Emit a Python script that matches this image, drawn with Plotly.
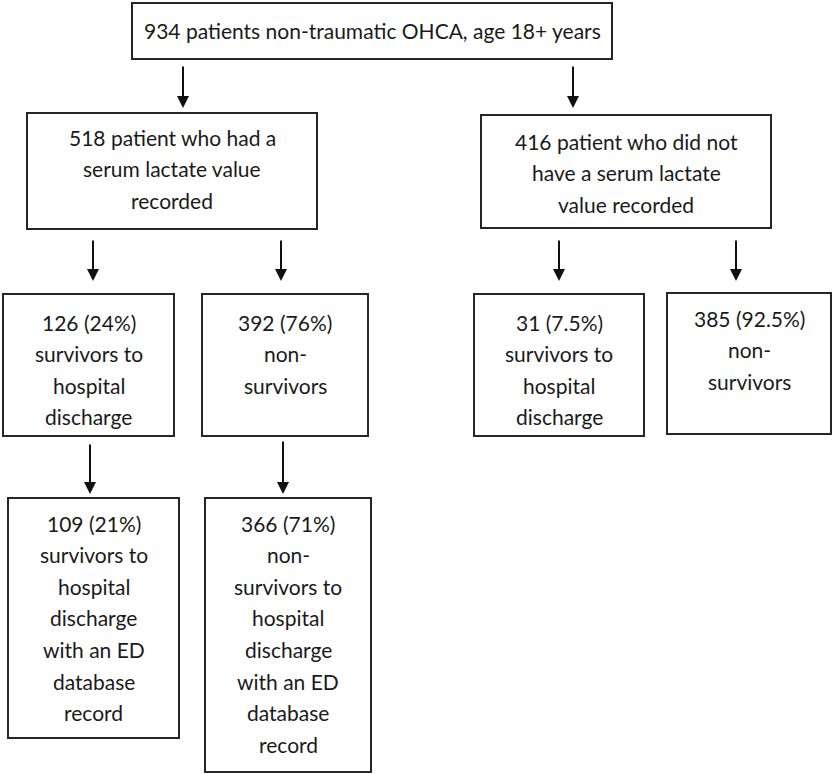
import plotly.graph_objects as go

# Box texts (each entry is the list of text lines of one box)
box_names = ["all", "lact", "nolact", "surv", "nonsurv", "surv_nl", "nonsurv_nl", "surv_ed", "nonsurv_ed"]
box_lines = [
    ["934 patients non-traumatic OHCA, age 18+ years"],
    ["518 patient who had a", "serum lactate value", "recorded"],
    ["416 patient who did not", "have a serum lactate", "value recorded"],
    ["126 (24%)", "survivors to", "hospital", "discharge"],
    ["392 (76%)", "non-", "survivors"],
    ["31 (7.5%)", "survivors to", "hospital", "discharge"],
    ["385 (92.5%)", "non-", "survivors"],
    ["109 (21%)", "survivors to", "hospital", "discharge", "with an ED", "database", "record"],
    ["366 (71%)", "non-", "survivors to", "hospital", "discharge", "with an ED", "database", "record"],
]

# Box geometry (x0, y0, x1, y1) in pixel-like coordinates and first text line y
box_geom = [
    (132, 3, 612, 59),
    (27, 113, 317, 229),
    (481, 115, 771, 228),
    (3, 294, 174, 436),
    (202, 294, 368, 436),
    (474, 294, 644, 436),
    (667, 293, 831, 434),
    (8, 498, 179, 738),
    (205, 498, 371, 772),
]
first_line_y = [30, 137, 141, 322, 322, 322, 318, 523, 523]
line_step = 31.6

# Arrows (x, y_start, y_end)
arrows = [
    (183, 65, 108),
    (573, 65, 108),
    (93, 239, 281),
    (281, 239, 281),
    (559, 239, 281),
    (736, 239, 281),
    (90, 443, 494),
    (283, 440, 494),
]

W, H = 832, 774
fig = go.Figure()
fig.add_trace(go.Scatter(x=[0, W], y=[0, H], mode="markers", marker=dict(opacity=0), hoverinfo="skip", showlegend=False))

border = "#262626"
txt_color = "#1a1a1a"
font_family = "Lato, 'Open Sans', sans-serif"

for (x0, y0, x1, y1), lines, fy in zip(box_geom, box_lines, first_line_y):
    fig.add_shape(type="rect", x0=x0, y0=y0, x1=x1, y1=y1, xref="x", yref="y",
                  line=dict(color=border, width=2), fillcolor="white", layer="below")
    cx = (x0 + x1) / 2
    for i, ln in enumerate(lines):
        fig.add_annotation(x=cx, y=fy + i * line_step, xref="x", yref="y", text=ln,
                           showarrow=False, xanchor="center", yanchor="middle",
                           font=dict(family=font_family, size=21, color=txt_color))

for x, ys, ye in arrows:
    fig.add_annotation(x=x, y=ye, ax=x, ay=ys, xref="x", yref="y", axref="x", ayref="y",
                       text="", showarrow=True, arrowhead=2, arrowsize=1.2, arrowwidth=2,
                       arrowcolor="#111111")

fig.update_xaxes(range=[0, W], visible=False, fixedrange=True)
fig.update_yaxes(range=[H, 0], visible=False, fixedrange=True)
fig.update_layout(width=W, height=H, margin=dict(l=0, r=0, t=0, b=0),
                  plot_bgcolor="white", paper_bgcolor="white", showlegend=False)

fig.write_html("out.html", config={"displayModeBar": False},
               post_script="document.body.style.margin='0px';document.body.style.padding='0px';document.body.style.overflow='hidden';")
